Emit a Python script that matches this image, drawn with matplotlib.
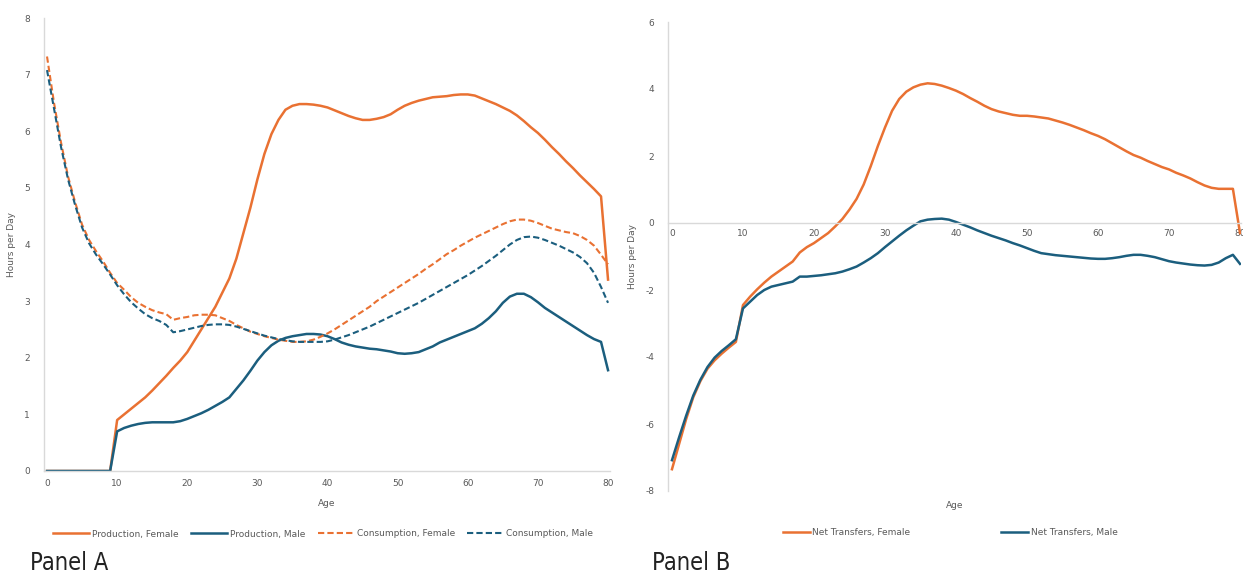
import numpy as np
import matplotlib.pyplot as plt

# ages 0..80
age = list(range(0, 81))

prod_female = [0, 0, 0, 0, 0, 0, 0, 0, 0, 0,
               0.9, 1.0, 1.1, 1.2, 1.3, 1.42, 1.55, 1.68, 1.82, 1.95,
               2.1, 2.3, 2.5, 2.7, 2.9, 3.15, 3.4, 3.75, 4.2, 4.65,
               5.15, 5.6, 5.95, 6.2, 6.38, 6.45, 6.48, 6.48, 6.47, 6.45,
               6.42, 6.37, 6.32, 6.27, 6.23, 6.2, 6.2, 6.22, 6.25, 6.3,
               6.38, 6.45, 6.5, 6.54, 6.57, 6.6, 6.61, 6.62, 6.64, 6.65,
               6.65, 6.63, 6.58, 6.53, 6.48, 6.42, 6.36, 6.28, 6.18, 6.07,
               5.97, 5.85, 5.72, 5.6, 5.47, 5.35, 5.22, 5.1, 4.98, 4.85,
               3.38]

prod_male = [0, 0, 0, 0, 0, 0, 0, 0, 0, 0,
             0.7, 0.76, 0.8, 0.83, 0.85, 0.86, 0.86, 0.86, 0.86, 0.88,
             0.92, 0.97, 1.02, 1.08, 1.15, 1.22, 1.3, 1.45, 1.6, 1.77,
             1.95, 2.1, 2.22, 2.3, 2.35, 2.38, 2.4, 2.42, 2.42, 2.41,
             2.38, 2.33, 2.27, 2.23, 2.2, 2.18, 2.16, 2.15, 2.13, 2.11,
             2.08, 2.07, 2.08, 2.1, 2.15, 2.2, 2.27, 2.32, 2.37, 2.42,
             2.47, 2.52, 2.6, 2.7, 2.82, 2.97, 3.08, 3.13, 3.13, 3.07,
             2.98, 2.88, 2.8, 2.72, 2.64, 2.56, 2.48, 2.4, 2.33, 2.28,
             1.78]

cons_female = [7.32, 6.5, 5.8, 5.2, 4.75, 4.35, 4.08, 3.88, 3.7, 3.5,
               3.32, 3.2, 3.07, 2.97, 2.9, 2.84, 2.8, 2.77, 2.67, 2.7,
               2.72, 2.75, 2.76, 2.76, 2.75, 2.7, 2.65, 2.58, 2.52, 2.46,
               2.42, 2.38, 2.35, 2.32, 2.3, 2.28, 2.28, 2.29, 2.32, 2.37,
               2.43, 2.5, 2.58, 2.66, 2.74, 2.82, 2.9, 3.0, 3.08, 3.16,
               3.24, 3.32, 3.4, 3.48, 3.57, 3.65, 3.74, 3.83, 3.9, 3.98,
               4.05, 4.12, 4.18, 4.24, 4.3, 4.36, 4.41, 4.44, 4.44, 4.42,
               4.38, 4.33, 4.28, 4.25, 4.22, 4.2, 4.15, 4.08, 3.98, 3.82,
               3.65]

cons_male = [7.08, 6.4, 5.72, 5.15, 4.7, 4.3, 4.02, 3.82, 3.65, 3.47,
             3.28, 3.12, 2.98, 2.87, 2.77, 2.7, 2.65, 2.58, 2.45, 2.47,
             2.5, 2.53, 2.56, 2.58, 2.59, 2.59, 2.58, 2.55, 2.51, 2.47,
             2.43, 2.39, 2.36, 2.33, 2.31, 2.29, 2.28, 2.28, 2.28, 2.28,
             2.29, 2.32, 2.36, 2.4, 2.45, 2.5, 2.55, 2.61, 2.67, 2.73,
             2.79, 2.85, 2.91, 2.97, 3.04, 3.11, 3.18, 3.25, 3.32, 3.39,
             3.46, 3.54, 3.62, 3.71, 3.8, 3.9, 4.0, 4.08, 4.13, 4.14,
             4.12, 4.08, 4.03, 3.98, 3.92, 3.86, 3.78, 3.67, 3.5, 3.25,
             2.97]

net_female = [-7.35, -6.6, -5.85, -5.2, -4.72, -4.35, -4.1, -3.9, -3.72, -3.55,
              -2.45, -2.2, -1.98, -1.78, -1.6, -1.45, -1.3, -1.15, -0.88, -0.72,
              -0.6, -0.45, -0.3, -0.1, 0.12, 0.4, 0.72, 1.15, 1.7, 2.3,
              2.85, 3.35, 3.7, 3.92, 4.05, 4.13, 4.17, 4.15, 4.1, 4.03,
              3.95, 3.85, 3.73, 3.62, 3.5, 3.4, 3.33, 3.28, 3.23, 3.2,
              3.2, 3.18, 3.15, 3.12, 3.06, 3.0, 2.93, 2.85, 2.77, 2.68,
              2.6, 2.5, 2.38, 2.26, 2.14, 2.03, 1.95, 1.85, 1.76, 1.67,
              1.6, 1.5, 1.42, 1.33, 1.22, 1.12, 1.05, 1.02, 1.02, 1.02,
              -0.3]

net_male = [-7.08, -6.4, -5.75, -5.15, -4.68, -4.3, -4.02, -3.82, -3.65, -3.47,
            -2.55, -2.35, -2.15, -2.0, -1.9, -1.85, -1.8, -1.75, -1.6, -1.6,
            -1.58, -1.56, -1.53, -1.5, -1.45, -1.38, -1.3, -1.18, -1.05, -0.9,
            -0.72, -0.55, -0.38, -0.22, -0.08, 0.05, 0.1, 0.12, 0.13, 0.1,
            0.03, -0.05, -0.13, -0.22, -0.3, -0.38, -0.45, -0.52, -0.6, -0.67,
            -0.75, -0.83, -0.9, -0.93, -0.96, -0.98, -1.0, -1.02, -1.04, -1.06,
            -1.07, -1.07, -1.05, -1.02, -0.98, -0.95, -0.95, -0.98, -1.02, -1.08,
            -1.14, -1.18, -1.21, -1.24, -1.26, -1.27, -1.25, -1.18, -1.05, -0.95,
            -1.22]

ORANGE = '#E97132'
BLUE = '#1B5E7E'
GRID = '#D9D9D9'
TXT = '#595959'

plt.rcParams['axes.unicode_minus'] = False

W, H = 1243, 575
fig = plt.figure(figsize=(W / 100, H / 100), dpi=100)


def px_axes(left, top, right, bottom):
    return fig.add_axes([left / W, 1 - bottom / H, (right - left) / W, (bottom - top) / H])


def style(ax):
    for s in ['top', 'right']:
        ax.spines[s].set_visible(False)
    for s in ['left', 'bottom']:
        ax.spines[s].set_color(GRID)
        ax.spines[s].set_linewidth(1.0)
    ax.tick_params(length=0, labelsize=6.5, labelcolor=TXT, pad=6)


# Panel A
axA = px_axes(44, 18, 610, 471)
axA.plot(age, prod_female, color=ORANGE, lw=1.8, label='Production, Female')
axA.plot(age, prod_male, color=BLUE, lw=1.8, label='Production, Male')
axA.plot(age, cons_female, color=ORANGE, lw=1.5, ls=(0, (3, 1.5)), label='Consumption, Female')
axA.plot(age, cons_male, color=BLUE, lw=1.5, ls=(0, (3, 1.5)), label='Consumption, Male')
axA.set_xlim(-0.43, 80.28)
axA.set_ylim(0, 8)
axA.set_xticks(range(0, 81, 10))
axA.set_yticks(range(0, 9))
style(axA)
axA.tick_params(axis='y', pad=10)
axA.set_xlabel('Age', fontsize=6.5, color=TXT, labelpad=8)
axA.set_ylabel('Hours per Day', fontsize=6.5, color=TXT, labelpad=6)
axA.legend(loc='center', bbox_to_anchor=(323 / W, 1 - 534 / H), bbox_transform=fig.transFigure,
           ncol=4, frameon=False, fontsize=6.5, labelcolor=TXT, handlelength=4.0,
           columnspacing=1.4, handletextpad=0.3)

# Panel B
axB = px_axes(668, 22, 1241, 491)
axB.plot(age, net_female, color=ORANGE, lw=1.8, label='Net Transfers, Female')
axB.plot(age, net_male, color=BLUE, lw=1.8, label='Net Transfers, Male')
axB.set_xlim(-0.56, 80.14)
axB.set_ylim(-8, 6)
axB.set_xticks(range(0, 81, 10))
axB.set_yticks(range(-8, 7, 2))
style(axB)
axB.spines['bottom'].set_position(('data', 0))
axB.tick_params(axis='y', pad=10)
axB.tick_params(axis='x', pad=4)
axB.text(0.5, -0.022, 'Age', transform=axB.transAxes, ha='center', va='top', fontsize=6.5, color=TXT)
axB.set_ylabel('Hours per Day', fontsize=6.5, color=TXT, labelpad=6)
axB.legend(loc='center', bbox_to_anchor=(950 / W, 1 - 533 / H), bbox_transform=fig.transFigure,
           ncol=2, frameon=False, fontsize=6.5, labelcolor=TXT, handlelength=3.0,
           columnspacing=10, handletextpad=0.3)

fig.text(30 / W, 1 - 563 / H, 'Panel A', fontsize=17, family='DejaVu Sans', stretch='condensed',
         color='#222222', va='center')
fig.text(652 / W, 1 - 563 / H, 'Panel B', fontsize=17, family='DejaVu Sans', stretch='condensed',
         color='#222222', va='center')

fig.savefig('out.png', dpi=100)
